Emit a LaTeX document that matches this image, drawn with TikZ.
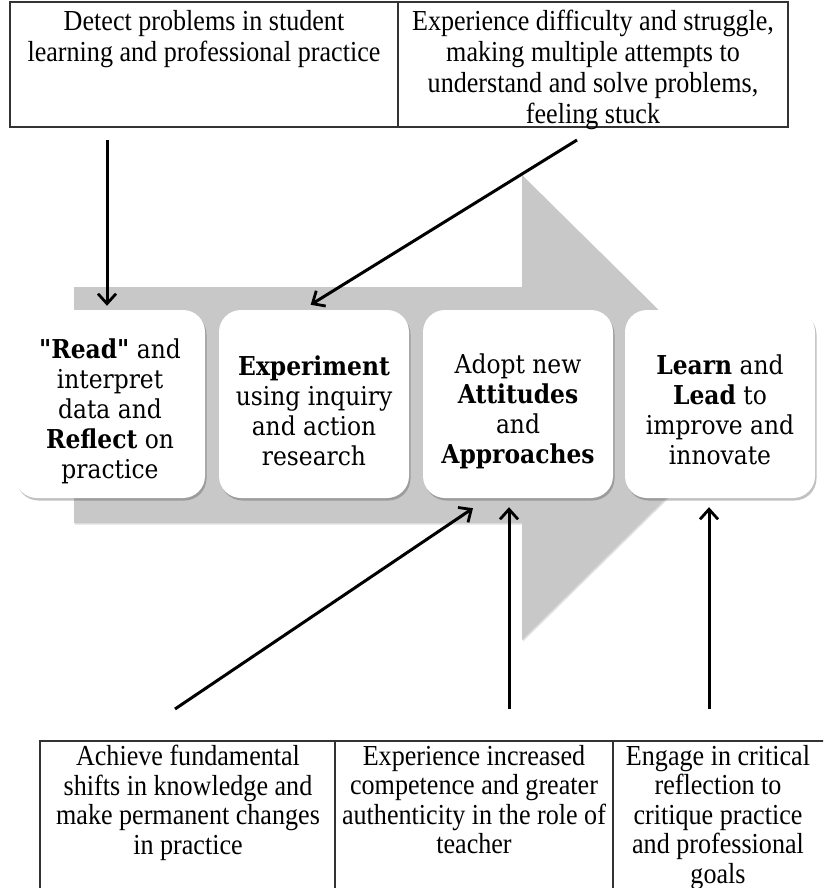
\documentclass[tikz,border=0pt]{standalone}
\usepackage{fontspec}
\setmainfont{Liberation Serif}[FakeStretch=0.9]
\newfontfamily\stagefont{DejaVu Serif Condensed}
\usetikzlibrary{arrows.meta,shadows,calc}
\definecolor{flowgray}{RGB}{200,200,200}
\begin{document}
\begin{tikzpicture}[x=1pt,y=-1pt,
  celltext/.style={font=\fontsize{29}{31}\selectfont, align=center, inner sep=0pt, anchor=north},
  lowtext/.style={celltext, font=\fontsize{29}{29.5}\selectfont},
  grid/.style={line width=1.2pt, draw=black!80},
  stage/.style={fill=white, rounded corners=22pt, minimum width=190pt, minimum height=188pt,
    inner sep=0pt,
    drop shadow={shadow xshift=1.5pt, shadow yshift=-2.5pt, opacity=0.35, fill=black!70}},
  stagetext/.style={align=center, inner sep=0pt, font=\stagefont\fontsize{26}{30}\selectfont},
  link/.style={line width=3pt, -{Straight Barb[length=10pt,width=18pt,line width=2.8pt]}},
]
\useasboundingbox (0,0) rectangle (823,888);
\clip (0,0) rectangle (823,888);

% background flow arrow
\fill[flowgray, drop shadow={shadow xshift=1pt, shadow yshift=-1.5pt, opacity=0.25}]
  (74,287) -- (522,287) -- (522,175) -- (758,408) -- (522,640) -- (522,523) -- (74,523) -- cycle;

% top table
\draw[grid] (10,2) rectangle (788,127);
\draw[grid] (398,2) -- (398,127);
\node[celltext] (t1) at (204,10) {Detect problems in student\\learning and professional practice};
\node[celltext] (t2) at (593,10) {Experience difficulty and struggle,\\making multiple attempts to\\understand and solve problems,\\feeling stuck};

% bottom table
\draw[grid] (40,900) -- (40,741) -- (830,741);
\draw[grid] (335,741) -- (335,900);
\draw[grid] (613,741) -- (613,900);
\node[lowtext] (b1) at (188,745) {Achieve fundamental\\shifts in knowledge and\\make permanent changes\\in practice};
\node[lowtext] (b2) at (474,745) {Experience increased\\competence and greater\\authenticity in the role of\\teacher};
\node[lowtext] (b3) at (718,745) {Engage in critical\\reflection to\\critique practice\\and professional\\goals};

% stage boxes
\node[stage] (s1) at (110,404) {};
\node[stage] (s2) at (314,404) {};
\node[stage] (s3) at (518,404) {};
\node[stage] (s4) at (720,404) {};
% stage labels, set a little below the box centres
\node[stagetext] (l1) at ([yshift=-7pt]s1.center) {\textbf{"Read"} and\\interpret\\data and\\\textbf{Reflect} on\\practice};
\node[stagetext] (l2) at ([yshift=-7pt]s2.center) {\textbf{Experiment}\\using inquiry\\and action\\research};
\node[stagetext] (l3) at ([yshift=-7pt]s3.center) {Adopt new\\\textbf{Attitudes}\\and\\\textbf{Approaches}};
\node[stagetext] (l4) at ([yshift=-6pt]s4.center) {\textbf{Learn} and\\\textbf{Lead} to\\improve and\\innovate};

% connectors
\coordinate (p1) at (107,140);
\coordinate (p2) at (577,140);
\coordinate (p3) at (175,709);
\coordinate (p4) at (509,709);
\coordinate (p5) at (709,709);
\draw[link, shorten >=4pt] (p1) -- (s1.north -| p1);
\draw[link, shorten >=2pt] (p2) -- ($(s2.north)+(-5,-4)$);
\draw[link] (p3) -- ($(s3.south)+(-45,10)$);
\draw[link, shorten >=9pt] (p4) -- (s3.south -| p4);
\draw[link, shorten >=9pt] (p5) -- (s4.south -| p5);
\end{tikzpicture}
\end{document}
